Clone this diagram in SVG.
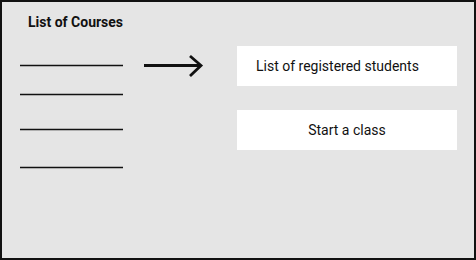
<svg xmlns="http://www.w3.org/2000/svg" width="476" height="260" viewBox="0 0 476 260">
  <style>
    .frame { fill: #e5e5e5; stroke: #111; stroke-width: 2; }
    .rule { stroke: #111; stroke-width: 1.3; }
    .box { fill: #ffffff; }
    .label { font-family: Roboto, "Liberation Sans", sans-serif; font-size: 14px; fill: #111; }
    .title { font-family: Roboto, "Liberation Sans", sans-serif; font-size: 14px; font-weight: bold; fill: #111; }
    .arrow { fill: none; stroke: #111; stroke-width: 2.8; stroke-linecap: butt; stroke-linejoin: miter; }
  </style>

  <rect class="frame" x="1" y="1" width="474" height="258"/>

  <g id="course-list">
    <text class="title" x="28" y="27">List of Courses</text>
    <line class="rule" x1="20" y1="65.5" x2="123" y2="65.5"/>
    <line class="rule" x1="20" y1="94.5" x2="123" y2="94.5"/>
    <line class="rule" x1="20" y1="129.5" x2="123" y2="129.5"/>
    <line class="rule" x1="20" y1="167.5" x2="123" y2="167.5"/>
  </g>

  <g id="connectors">
    <line class="arrow" x1="144" y1="65.5" x2="200" y2="65.5"/>
    <polyline class="arrow" points="190,56 201,65.5 190,76"/>
  </g>

  <g id="registered-students">
    <rect class="box" x="237" y="46" width="220" height="40"/>
    <text class="label" x="256" y="71">List of registered students</text>
  </g>

  <g id="start-class">
    <rect class="box" x="237" y="110" width="220" height="40"/>
    <text class="label" x="347" y="135" text-anchor="middle">Start a class</text>
  </g>
</svg>
